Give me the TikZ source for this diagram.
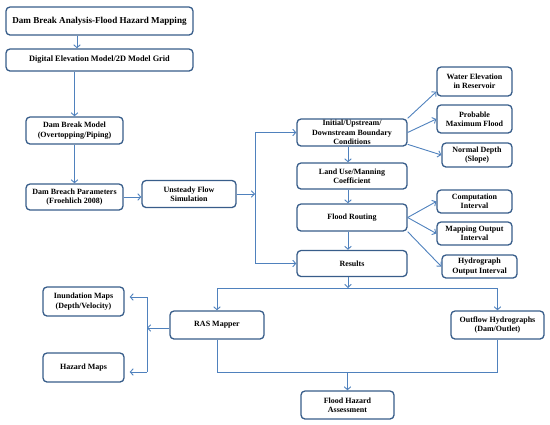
\documentclass[tikz,border=0pt]{standalone}
\usepackage{fontspec}
\setmainfont{Liberation Serif}
\usetikzlibrary{arrows.meta}
\definecolor{boxc}{RGB}{56,93,138}
\definecolor{linec}{RGB}{79,129,189}
\tikzset{
  box/.style={draw=boxc, line width=1.3pt, rounded corners=4pt, fill=white, align=center,
    inner sep=0pt, font=\bfseries\fontsize{8}{9.3}\selectfont},
  conn/.style={draw=linec, line width=0.9pt},
  arr/.style={conn, -{Straight Barb[length=3pt,width=6.5pt]}},
}
\newcommand{\bx}[6]{\node[box, minimum width=#4pt, minimum height=#5pt] (#1) at (#2,#3) {#6};}
\begin{document}
\begin{tikzpicture}[x=1pt,y=-1pt]
\useasboundingbox (0,0) rectangle (550,424);
\bx{b1}{99.5}{21}{187}{28}{\fontsize{9.1}{10}\selectfont Dam Break Analysis-Flood Hazard Mapping}
\bx{b2}{99.5}{60}{187}{22}{\fontsize{8.3}{9}\selectfont Digital Elevation Model/2D Model Grid}
\bx{b3}{74.5}{130.5}{97}{27}{Dam Break Model\\(Overtopping/Piping)}
\bx{b4}{74.5}{197}{97}{26}{Dam Breach Parameters\\(Froehlich 2008)}
\bx{b5}{189}{194}{94}{27}{Unsteady Flow\\Simulation}
\bx{init}{352}{132.5}{110}{27}{Initial/Upstream/\\Downstream Boundary\\Conditions}
\bx{water}{474.5}{81.5}{75}{29}{Water Elevation\\in Reservoir}
\bx{pmf}{474.5}{119}{75}{28}{Probable\\Maximum Flood}
\bx{normal}{477}{155}{70}{24}{Normal Depth\\(Slope)}
\bx{land}{352}{176}{110}{26}{Land Use/Manning\\Coefficient}
\bx{comp}{474.5}{201.5}{75}{23}{Computation\\Interval}
\bx{mapout}{474.5}{233.5}{75}{23}{Mapping Output\\Interval}
\bx{hydro}{479.5}{266.5}{75}{23}{Hydrograph\\Output Interval}
\bx{flood}{352}{217.5}{110}{27}{Flood Routing}
\bx{results}{352}{263.5}{110}{26}{Results}
\bx{inund}{83.5}{301.5}{81}{29}{Inundation Maps\\(Depth/Velocity)}
\bx{hazard}{83.5}{367.5}{81}{29}{Hazard Maps}
\bx{ras}{217}{325}{94}{28}{RAS Mapper}
\bx{outflow}{497.5}{325}{93}{28}{Outflow Hydrographs\\(Dam/Outlet)}
\bx{fha}{347.5}{405}{93}{28}{Flood Hazard\\Assessment}
\coordinate (jx) at (255,0);
\coordinate (brk) at (147,0);
\coordinate (bus) at (0,288);
\coordinate (bus2) at (0,372);
% top chain
\draw[arr] ([xshift=-22.5pt]b1.south) -- ([xshift=-22.5pt]b2.north);
\draw[arr] (b2.south -| b3.north) -- (b3.north);
\draw[arr] (b3.south) -- (b4.north);
\draw[arr] (b4.east) -- (b4.east -| b5.west);
\draw[arr] (b5.east) -- (b5.east -| jx);
\draw[conn] (jx |- init.west) -- (jx |- results.west);
\draw[arr] (jx |- init.west) -- (init.west);
\draw[arr] (jx |- results.west) -- (results.west);
% right column
\draw[arr] (init.north east) -- (water.195);
\draw[arr] (init.east) -- (pmf.west);
\draw[arr] (init.-12) -- (normal.west);
\draw[arr] ([xshift=-4pt]init.south) -- ([xshift=-4pt]land.north);
\draw[arr] ([xshift=-4pt]land.south) -- ([xshift=-4pt]flood.north);
\draw[arr] ([xshift=-4pt]flood.south) -- ([xshift=-4pt]results.north);
\draw[arr] (flood.east) -- (comp.west);
\draw[arr] (flood.east) -- (mapout.west);
\draw[arr] (flood.south east) -- (hydro.west);
% bottom
\draw[arr] ([xshift=-4pt]results.south) -- ([xshift=-4pt]results.south |- bus);
\draw[conn] (ras.north |- bus) -- (outflow.north |- bus);
\draw[arr] (ras.north |- bus) -- (ras.north);
\draw[arr] (outflow.north |- bus) -- (outflow.north);
\draw[arr] ([yshift=-3pt]ras.west) -- ([yshift=-3pt]ras.west -| brk);
\draw[conn] ([yshift=4.5pt]inund.east -| brk) -- ([yshift=-4.5pt]hazard.east -| brk);
\draw[arr] ([yshift=4.5pt]inund.east -| brk) -- ([xshift=5pt,yshift=4.5pt]inund.east);
\draw[arr] ([yshift=-4.5pt]hazard.east -| brk) -- ([xshift=5pt,yshift=-4.5pt]hazard.east);
\draw[conn] (ras.south) -- (ras.south |- bus2) -- (outflow.south |- bus2) -- (outflow.south);
\draw[arr] (fha.north |- bus2) -- (fha.north);
\end{tikzpicture}
\end{document}
